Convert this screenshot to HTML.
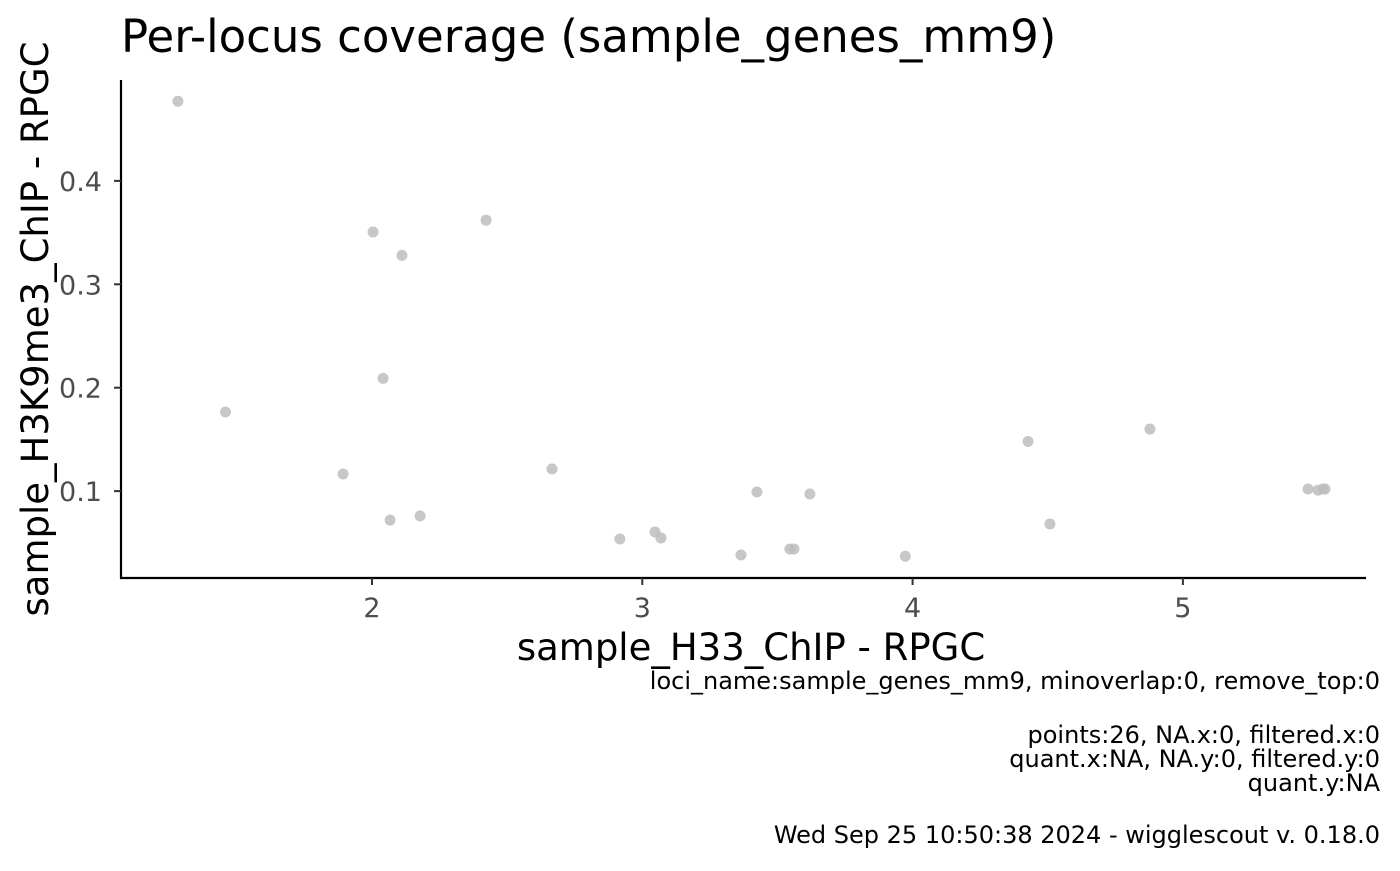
<!DOCTYPE html>
<html><head><meta charset="utf-8"><style>
body{margin:0;background:#fff;width:1400px;height:866px;overflow:hidden;font-family:"Liberation Sans","DejaVu Sans",sans-serif}
svg text{font-family:"DejaVu Sans","Liberation Sans",sans-serif}
</style></head><body>
<svg id="chart" width="1400" height="866" xmlns="http://www.w3.org/2000/svg">
<text x="121" y="52" font-size="45" fill="#000">Per-locus coverage (sample_genes_mm9)</text>
<g id="plot"></g>
<line x1="121" y1="80" x2="121" y2="579" stroke="#000" stroke-width="2.2"/>
<line x1="120" y1="578" x2="1366" y2="578" stroke="#000" stroke-width="2.2"/>
<g id="xt"></g>
<g id="yt"></g>
<text x="751" y="660" font-size="37" text-anchor="middle">sample_H33_ChIP - RPGC</text>
<text transform="translate(48,329) rotate(-90)" font-size="37" text-anchor="middle">sample_H3K9me3_ChIP - RPGC</text>
<g font-size="24" text-anchor="end" fill="#000">
<text x="1380" y="689">loci_name:sample_genes_mm9, minoverlap:0, remove_top:0</text>
<text x="1380" y="743">points:26, NA.x:0, filtered.x:0</text>
<text x="1380" y="767">quant.x:NA, NA.y:0, filtered.y:0</text>
<text x="1380" y="791">quant.y:NA</text>
<text x="1380" y="843">Wed Sep 25 10:50:38 2024 - wigglescout v. 0.18.0</text>
</g>
</svg>
<script>
const xVals=[1.282,1.458,2.004,2.111,2.422,2.041,1.893,2.067,2.178,2.666,2.917,3.047,3.069,3.365,3.424,3.546,3.561,3.620,3.973,4.427,4.508,4.878,5.463,5.500,5.518,5.526];
const yVals=[0.477,0.1765,0.3506,0.328,0.362,0.209,0.1165,0.072,0.076,0.1214,0.0537,0.0605,0.0547,0.0382,0.0991,0.044,0.044,0.0972,0.037,0.148,0.0682,0.160,0.102,0.101,0.102,0.102];
const xTicks=[2,3,4,5];
const yTicks=[0.1,0.2,0.3,0.4];
const sx=v=>372+(v-2)*270.3;
const sy=v=>594.5-v*1034;
const NS="http://www.w3.org/2000/svg";
const plot=document.getElementById('plot');
xVals.forEach((x,i)=>{
 const c=document.createElementNS(NS,'circle');
 c.setAttribute('cx',sx(x));c.setAttribute('cy',sy(yVals[i]));c.setAttribute('r',5.5);
 c.setAttribute('fill','#bdbdbd');c.setAttribute('fill-opacity','0.85');
 
 
 plot.appendChild(c);
});
const xt=document.getElementById('xt');
xTicks.forEach(t=>{
 const l=document.createElementNS(NS,'line');
 l.setAttribute('x1',sx(t));l.setAttribute('x2',sx(t));l.setAttribute('y1',578);l.setAttribute('y2',585);l.setAttribute('stroke','#333');l.setAttribute('stroke-width',2);
 
 
 xt.appendChild(l);
 const s=document.createElementNS(NS,'text');
 s.setAttribute('x',sx(t));s.setAttribute('y',617);s.setAttribute('text-anchor','middle');s.setAttribute('font-size',27);s.setAttribute('fill','#4d4d4d');
 s.textContent=t;
 
 
 xt.appendChild(s);
});
const yt=document.getElementById('yt');
yTicks.forEach(t=>{
 const l=document.createElementNS(NS,'line');
 l.setAttribute('x1',114);l.setAttribute('x2',121);l.setAttribute('y1',sy(t));l.setAttribute('y2',sy(t));l.setAttribute('stroke','#333');l.setAttribute('stroke-width',2);
 
 
 yt.appendChild(l);
 const s=document.createElementNS(NS,'text');
 s.setAttribute('x',102);s.setAttribute('y',sy(t)+10);s.setAttribute('text-anchor','end');s.setAttribute('font-size',27);s.setAttribute('fill','#4d4d4d');
 s.textContent=t.toFixed(1);
 
 
 yt.appendChild(s);
});
</script>
</body></html>
